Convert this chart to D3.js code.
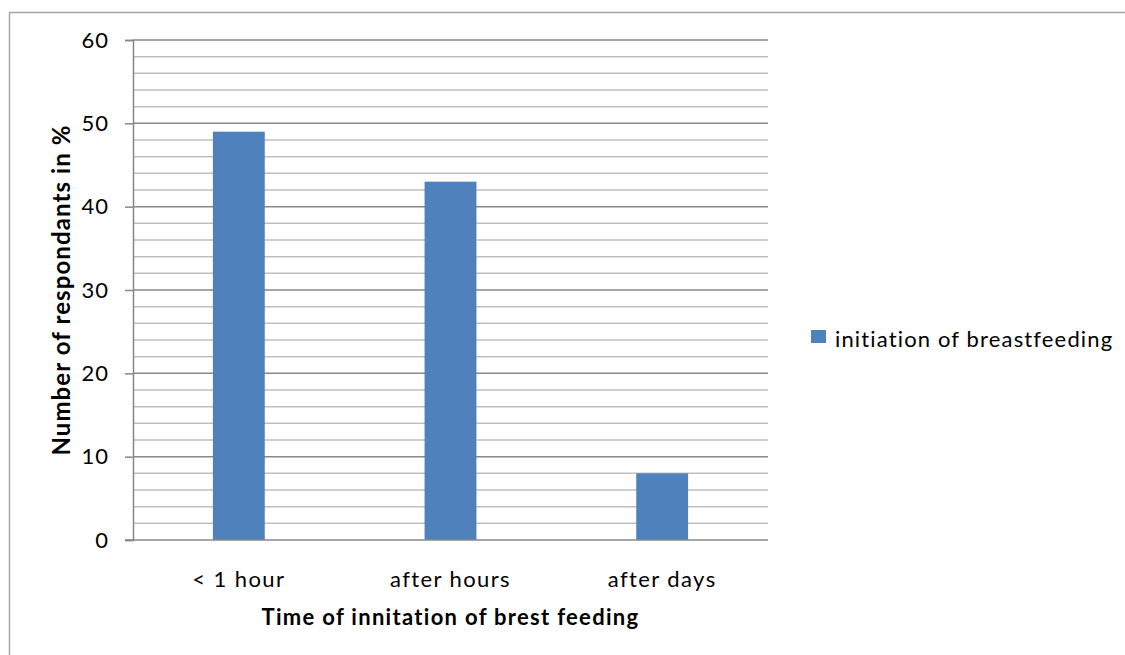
<!DOCTYPE html>
<html><head><meta charset="utf-8">
<script src="https://cdn.jsdelivr.net/npm/d3@7"></script>
<style>body{margin:0;background:#fff;} svg{display:block;font-family:Lato, "Open Sans", sans-serif;}</style>
</head><body>
<svg id="c" width="1125" height="655"></svg>
<script>
const categories = ["< 1 hour", "after hours", "after days"];
const values = [49, 43, 8];
const seriesName = "initiation of breastfeeding";
const yTicks = [0, 10, 20, 30, 40, 50, 60];
const xTitle = "Time of innitation of brest feeding";
const yTitle = "Number of respondants in %";

const svg = d3.select("#c");
const pLeft = 133, pRight = 768, pTop = 40, pBottom = 540;

// outer frame
svg.append("rect").attr("x", 9.5).attr("y", 12.5).attr("width", 1200).attr("height", 700)
  .attr("fill", "none").attr("stroke", "#a6a6a6").attr("stroke-width", 1.5);

const x = d3.scaleBand().domain(categories).range([pLeft, pRight]).paddingInner(0.755).paddingOuter(0.3775);
const y = d3.scaleLinear().domain([0, 60]).range([pBottom, pTop]);

// minor gridlines
const minor = d3.range(0, 61, 2).filter(v => v % 10 !== 0);
svg.append("g").selectAll("line").data(minor).join("line")
  .attr("x1", pLeft).attr("x2", pRight).attr("y1", d => y(d)).attr("y2", d => y(d))
  .attr("stroke", "#bfbfbf").attr("stroke-width", 1.5);
// major gridlines
svg.append("g").selectAll("line").data(yTicks.filter(v => v > 0)).join("line")
  .attr("x1", pLeft).attr("x2", pRight).attr("y1", d => y(d)).attr("y2", d => y(d))
  .attr("stroke", "#888888").attr("stroke-width", 1.5);

// bars
svg.append("g").selectAll("rect").data(values).join("rect")
  .attr("x", (d, i) => x(categories[i])).attr("width", x.bandwidth())
  .attr("y", d => y(d)).attr("height", d => y(0) - y(d))
  .attr("fill", "#4F81BD");

// y axis
const yAxis = d3.axisLeft(y).tickValues(yTicks).tickSize(8).tickPadding(16).tickFormat(d3.format("d"));
const gy = svg.append("g").attr("transform", `translate(${pLeft},0)`).call(yAxis);
gy.select(".domain").attr("stroke", "#888888").attr("stroke-width", 1.5);
gy.selectAll(".tick line").attr("stroke", "#888888").attr("stroke-width", 1.5);
gy.selectAll("text").attr("font-size", 22).attr("fill", "#000").attr("font-family", "Lato").attr("letter-spacing", 1);

// x axis
const xAxis = d3.axisBottom(x).tickSize(0).tickPadding(31);
const gx = svg.append("g").attr("transform", `translate(0,${pBottom})`).call(xAxis);
gx.select(".domain").attr("d", `M${pLeft - 8},0H${pRight}`).attr("stroke", "#888888").attr("stroke-width", 1.5);
gx.selectAll("text").attr("font-size", 22).attr("fill", "#000").attr("font-family", "Lato").attr("letter-spacing", 1.4);

// titles
svg.append("text").attr("x", (pLeft + pRight) / 2).attr("y", 625).attr("text-anchor", "middle")
  .attr("font-size", 22).attr("font-weight", "bold").attr("letter-spacing", 1.3).text(xTitle);
svg.append("text").attr("transform", `translate(70,${(pTop + pBottom) / 2}) rotate(-90)`).attr("text-anchor", "middle")
  .attr("font-size", 24).attr("font-weight", "bold").attr("letter-spacing", 1.1).text(yTitle);

// legend
svg.append("rect").attr("x", 811).attr("y", 330).attr("width", 15).attr("height", 13).attr("fill", "#4F81BD");
svg.append("text").attr("x", 835).attr("y", 347).attr("font-size", 22).attr("fill", "#000").attr("letter-spacing", 1.15).text(seriesName);
</script>
</body></html>
